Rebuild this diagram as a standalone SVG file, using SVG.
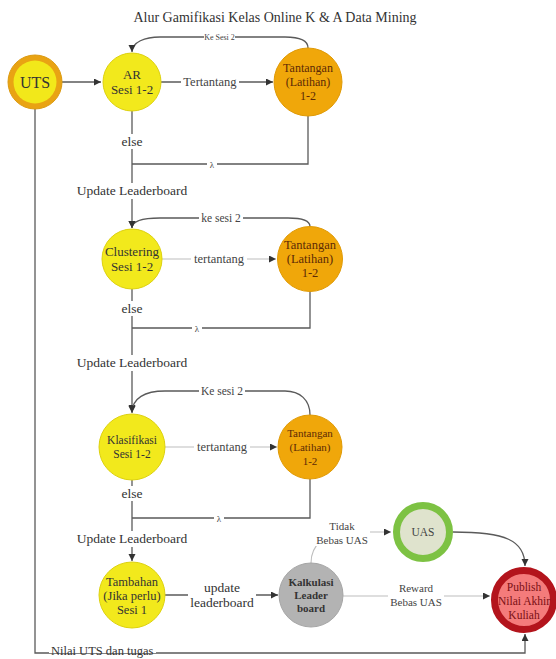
<svg xmlns="http://www.w3.org/2000/svg" width="556" height="659" viewBox="0 0 556 659">
<style>
text{font-family:"Liberation Serif","Times New Roman",serif;text-anchor:middle}
.c{fill:none;stroke:#5a5a5a;stroke-width:1.3}
.cl{fill:none;stroke:#bdbdbd;stroke-width:1.1}
.lb{fill:#fff}
.lt{font-size:13.5px;fill:#333}
.ls{font-size:11px;fill:#444}
.yel{fill:#f2e91c;stroke:#ddd10e;stroke-width:1}
.org{fill:#f0a70a;stroke:#e09a05;stroke-width:1}
.yt{font-size:12.5px;fill:#333}
.ot{font-size:12px;fill:#5c2a06}
</style>
<defs>
<marker id="ah" markerUnits="userSpaceOnUse" markerWidth="8" markerHeight="8" refX="7" refY="3.5" orient="auto">
<path d="M0,0 L7,3.5 L0,7 z" fill="#333"/>
</marker>
</defs>
<rect width="556" height="659" fill="#fff"/>
<text x="275" y="22" style="font-size:14px;fill:#333">Alur Gamifikasi Kelas Online K &amp; A Data Mining</text>

<g id="connectors">
<path class="c" d="M62,82 H101" marker-end="url(#ah)"/>
<path class="c" d="M161,82 H273" marker-end="url(#ah)"/>
<rect class="lb" x="181" y="75" width="58" height="14"/>
<text class="ls" x="210" y="86" style="font-size:12.5px">Tertantang</text>
<path class="c" d="M308,48 C308,40 300,37 285,37 H160 C145,37 132,42 132,52" marker-end="url(#ah)"/>
<rect class="lb" x="204" y="33" width="31" height="9"/>
<text x="219.5" y="40" style="font-size:8px;fill:#444">Ke Sesi 2</text>
<path class="c" d="M132,111 V228" marker-end="url(#ah)"/>
<rect class="lb" x="118" y="134" width="28" height="15"/>
<text class="lt" x="132" y="146">else</text>
<path class="c" d="M308,116 V164 H132"/>
<rect class="lb" x="207" y="160" width="10" height="9"/>
<text x="212" y="168" style="font-size:9px;fill:#444">λ</text>
<rect class="lb" x="76" y="183" width="112" height="16"/>
<text class="lt" x="132" y="195">Update Leaderboard</text>

<path class="c" d="M310,226.5 C310,220 302,218 288,218 H160 C143,218 132,221 132,228" marker-end="url(#ah)"/>
<rect class="lb" x="199" y="211" width="44" height="13"/>
<text class="ls" x="221" y="222" style="font-size:11.5px">ke sesi 2</text>
<path class="cl" d="M162,259 H276" marker-end="url(#ah)"/>
<rect class="lb" x="191" y="252" width="56" height="14"/>
<text class="ls" x="219" y="263" style="font-size:12.5px">tertantang</text>
<path class="c" d="M132,289 V412" marker-end="url(#ah)"/>
<rect class="lb" x="118" y="301" width="28" height="15"/>
<text class="lt" x="132" y="313">else</text>
<path class="c" d="M310,291.5 V328 H132"/>
<rect class="lb" x="192" y="324" width="10" height="9"/>
<text x="197" y="332" style="font-size:9px;fill:#444">λ</text>
<rect class="lb" x="76" y="355" width="112" height="16"/>
<text class="lt" x="132" y="367">Update Leaderboard</text>

<path class="c" d="M310,415 C310,400 300,391 285,391 H165 C145,391 132,398 132,413" marker-end="url(#ah)"/>
<rect class="lb" x="199" y="384" width="46" height="13"/>
<text class="ls" x="222" y="395" style="font-size:11.5px">Ke sesi 2</text>
<path class="cl" d="M165,447 H277" marker-end="url(#ah)"/>
<rect class="lb" x="194" y="440" width="56" height="14"/>
<text class="ls" x="222" y="451" style="font-size:12.5px">tertantang</text>
<path class="c" d="M132,480 V561" marker-end="url(#ah)"/>
<rect class="lb" x="118" y="486" width="28" height="15"/>
<text class="lt" x="132" y="498">else</text>
<path class="c" d="M310,479 V518 H132"/>
<rect class="lb" x="214" y="514" width="10" height="9"/>
<text x="219" y="522" style="font-size:9px;fill:#444">λ</text>
<rect class="lb" x="76" y="531" width="112" height="16"/>
<text class="lt" x="132" y="543">Update Leaderboard</text>

<path class="c" d="M165,595 H278" marker-end="url(#ah)"/>
<rect class="lb" x="188" y="581" width="68" height="30"/>
<text class="lt" x="222" y="592">update</text>
<text class="lt" x="222" y="607">leaderboard</text>

<path class="cl" d="M311,563 C311,545 325,532 350,532 H391" marker-end="url(#ah)"/>
<rect class="lb" x="315" y="519" width="55" height="27"/>
<text class="ls" x="342" y="530">Tidak</text>
<text class="ls" x="342" y="544">Bebas UAS</text>

<path class="cl" d="M343,596 H490" marker-end="url(#ah)"/>
<rect class="lb" x="388" y="581" width="56" height="28"/>
<text class="ls" x="416" y="592">Reward</text>
<text class="ls" x="416" y="606">Bebas UAS</text>

<path class="c" d="M453,532 C505,532 525,540 525,566" marker-end="url(#ah)"/>

<path class="c" d="M35,109 V653 H525 V634" marker-end="url(#ah)"/>
<rect class="lb" x="49" y="643" width="107" height="10"/>
<text x="51" y="655" style="font-size:12.5px;fill:#333;text-anchor:start">Nilai UTS dan tugas</text>
</g>

<g id="uts">
<circle cx="35" cy="82" r="27" fill="#e9a313" stroke="#dc9a10"/>
<circle cx="35" cy="82" r="21.5" fill="#f2e81a"/>
<text x="35" y="88" style="font-size:16px;fill:#333">UTS</text>
</g>
<g id="ar">
<circle class="yel" cx="132" cy="82" r="29"/>
<text class="yt" x="132" y="79" style="font-size:13px">AR</text>
<text class="yt" x="132" y="94" style="font-size:13px">Sesi 1-2</text>
</g>
<g id="tantangan1">
<circle class="org" cx="308" cy="82" r="34"/>
<text class="ot" x="308" y="72">Tantangan</text>
<text class="ot" x="308" y="86">(Latihan)</text>
<text class="ot" x="308" y="100">1-2</text>
</g>
<g id="clustering">
<circle class="yel" cx="132" cy="259" r="30"/>
<text class="yt" x="132" y="256" style="font-size:13px">Clustering</text>
<text class="yt" x="132" y="271" style="font-size:13px">Sesi 1-2</text>
</g>
<g id="tantangan2">
<circle class="org" cx="310" cy="259" r="32.5"/>
<text class="ot" x="310" y="249" style="font-size:12.5px">Tantangan</text>
<text class="ot" x="310" y="263" style="font-size:12.5px">(Latihan)</text>
<text class="ot" x="310" y="277" style="font-size:12.5px">1-2</text>
</g>
<g id="klasifikasi">
<circle class="yel" cx="132" cy="447" r="33"/>
<text class="yt" x="132" y="444" style="font-size:11.5px">Klasifikasi</text>
<text class="yt" x="132" y="458" style="font-size:11.5px">Sesi 1-2</text>
</g>
<g id="tantangan3">
<circle class="org" cx="310" cy="447" r="32"/>
<text class="ot" x="310" y="437" style="font-size:11px">Tantangan</text>
<text class="ot" x="310" y="451" style="font-size:11px">(Latihan)</text>
<text class="ot" x="310" y="465" style="font-size:11px">1-2</text>
</g>
<g id="tambahan">
<circle class="yel" cx="132" cy="595" r="33"/>
<text class="yt" x="132" y="586">Tambahan</text>
<text class="yt" x="132" y="600">(Jika perlu)</text>
<text class="yt" x="132" y="614">Sesi 1</text>
</g>
<g id="kalkulasi">
<circle cx="311" cy="595" r="32" fill="#b3b3b3" stroke="#a6a6a6"/>
<text x="311" y="586" style="font-size:11px;font-weight:bold;fill:#333">Kalkulasi</text>
<text x="311" y="599" style="font-size:11px;font-weight:bold;fill:#333">Leader</text>
<text x="311" y="612" style="font-size:11px;font-weight:bold;fill:#333">board</text>
</g>
<g id="uas">
<circle cx="423" cy="532" r="26.5" fill="#dfe3cd" stroke="#7dc243" stroke-width="7"/>
<text x="423" y="536" style="font-size:11.5px;fill:#444">UAS</text>
</g>
<g id="publish">
<circle cx="524" cy="600" r="29.5" fill="#f47b7b" stroke="#b3141c" stroke-width="7"/>
<text x="524" y="591" style="font-size:11.5px;fill:#7a0f14">Publish</text>
<text x="524" y="605" style="font-size:11.5px;fill:#7a0f14">Nilai Akhir</text>
<text x="524" y="619" style="font-size:11.5px;fill:#7a0f14">Kuliah</text>
</g>
</svg>
